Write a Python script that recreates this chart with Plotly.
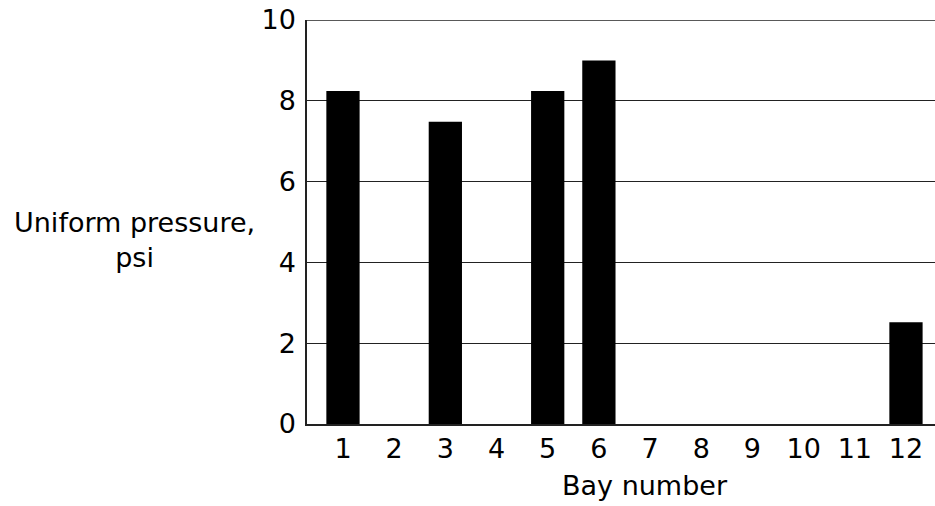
import plotly.graph_objects as go

bays = [1, 2, 3, 4, 5, 6, 7, 8, 9, 10, 11, 12]
pressure = [8.24, 0, 7.48, 0, 8.24, 9.0, 0, 0, 0, 0, 0, 2.52]
y_ticks = [0, 2, 4, 6, 8, 10]

FONT = "DejaVu Sans, sans-serif"
FS = 27

fig = go.Figure()
fig.add_trace(go.Bar(x=bays, y=pressure, width=0.65,
                     marker=dict(color="black", line=dict(width=0))))

fig.update_layout(
    width=935, height=506,
    margin=dict(l=307, r=0, t=20, b=82, autoexpand=False),
    paper_bgcolor="white", plot_bgcolor="white",
    showlegend=False,
    font=dict(family=FONT, size=FS, color="black"),
    xaxis=dict(range=[0.297, 12.567], tickmode="array", tickvals=bays,
               ticktext=[str(b) for b in bays], showgrid=False,
               showline=True, linecolor="#222", linewidth=1.5,
               ticks="", ticklen=0, zeroline=False, automargin=False,
               tickfont=dict(size=FS)),
    yaxis=dict(range=[0, 10], tickmode="array", tickvals=y_ticks,
               showgrid=True, gridcolor="#222", gridwidth=1.3,
               showline=True, linecolor="#222", linewidth=1.5,
               ticks="outside", ticklen=4, tickcolor="rgba(0,0,0,0)",
               ticklabeloverflow="allow", automargin=False,
               zeroline=False, tickfont=dict(size=FS)),
)
fig.add_shape(type="line", xref="paper", yref="y", x0=0, x1=1, y0=10, y1=10,
              line=dict(color="#222", width=1.5))
fig.add_annotation(text="Uniform pressure,<br>psi", xref="paper", yref="y",
                   x=-0.274, y=4.55, showarrow=False, xanchor="center",
                   yanchor="middle", align="center",
                   font=dict(size=FS, family=FONT))
fig.add_annotation(text="Bay number", xref="x", yref="paper",
                   x=6.9, y=-0.151, showarrow=False, xanchor="center",
                   yanchor="middle", font=dict(size=FS, family=FONT))

fig.write_html("out.html", config={"displayModeBar": False},
               post_script="document.body.style.margin='0px';document.body.style.overflow='hidden';")
